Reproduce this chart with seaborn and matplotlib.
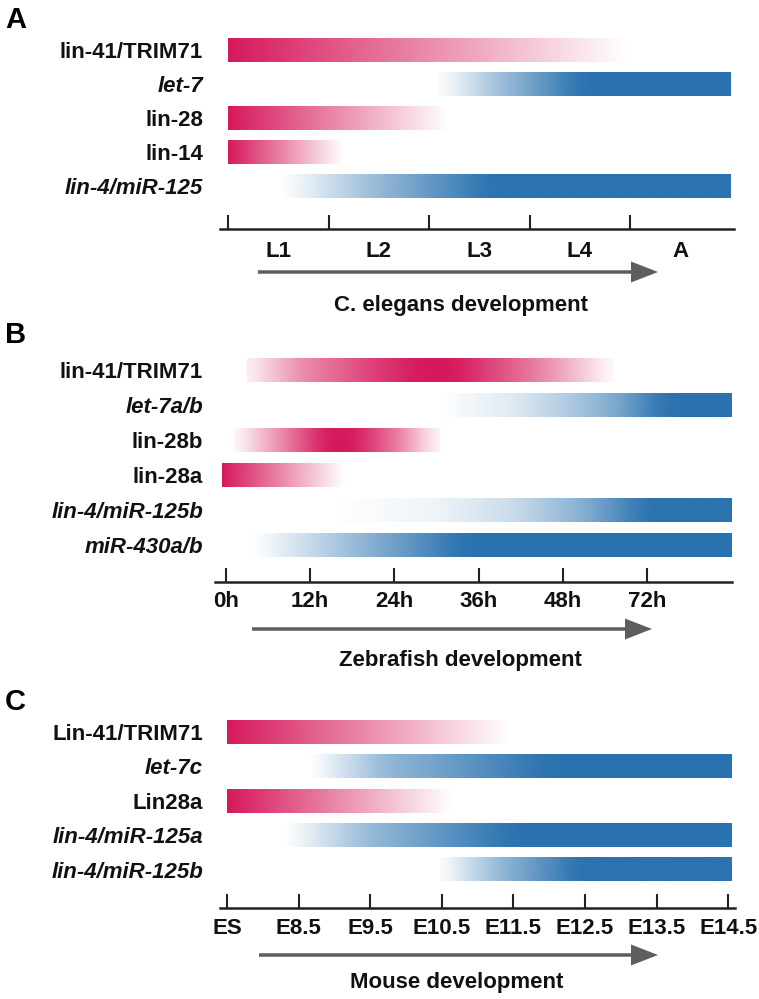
import numpy as np
import matplotlib
matplotlib.use("Agg")
import matplotlib.pyplot as plt
import seaborn as sns
from matplotlib.colors import to_rgb
from matplotlib.patches import FancyArrow

sns.set_theme(style="white")
plt.rcParams["font.family"] = ["Liberation Sans", "DejaVu Sans"]
plt.rcParams["font.weight"] = "bold"

# ---------------- data ----------------
# Panel A: C. elegans
stages_A = ["L1", "L2", "L3", "L4", "A"]
genes_A = ["lin-41/TRIM71", "let-7", "lin-28", "lin-14", "lin-4/miR-125"]
italic_A = [False, True, False, False, True]
kind_A = ["prot", "mirna", "prot", "prot", "mirna"]
pos_A = [[0, 3.97], [2.1, 2.7, 3.5, 5.0], [0, 2.18], [0, 1.14], [0.55, 1.5, 2.6, 5.0]]
lvl_A = [[1, 0], [0, 0.45, 1, 1], [1, 0], [1, 0], [0, 0.5, 1, 1]]

# Panel B: Zebrafish
stages_B = ["0h", "12h", "24h", "36h", "48h", "72h"]
genes_B = ["lin-41/TRIM71", "let-7a/b", "lin-28b", "lin-28a", "lin-4/miR-125b", "miR-430a/b"]
italic_B = [False, True, False, False, True, True]
kind_B = ["prot", "mirna", "prot", "prot", "mirna", "mirna"]
pos_B = [[0.25, 0.9, 1.8, 2.3, 2.7, 3.6, 4.2, 4.6],
         [2.54, 3.4, 4.0, 4.6, 5.2, 6.0],
         [0.1, 0.6, 1.2, 1.5, 2.0, 2.54],
         [-0.05, 1.39],
         [1.27, 2.5, 3.4, 4.2, 5.0, 6.0],
         [0.34, 1.8, 2.8, 6.0]]
lvl_B = [[0.05, 0.5, 0.85, 1, 1, 0.6, 0.25, 0],
         [0, 0.15, 0.35, 0.6, 1, 1],
         [0, 0.45, 1, 1, 0.6, 0],
         [1, 0],
         [0, 0.08, 0.25, 0.55, 1, 1],
         [0, 0.6, 1, 1]]

# Panel C: Mouse
stages_C = ["ES", "E8.5", "E9.5", "E10.5", "E11.5", "E12.5", "E13.5", "E14.5"]
genes_C = ["Lin-41/TRIM71", "let-7c", "Lin28a", "lin-4/miR-125a", "lin-4/miR-125b"]
italic_C = [False, True, False, True, True]
kind_C = ["prot", "mirna", "prot", "mirna", "mirna"]
pos_C = [[0, 3.92], [1.19, 2.2, 4.46, 7.05], [0, 3.14], [0.84, 2.0, 4.0, 7.05], [2.98, 3.8, 4.9, 7.05]]
lvl_C = [[1, 0], [0, 0.5, 1, 1], [1, 0], [0, 0.5, 1, 1], [0, 0.5, 1, 1]]

titles = ["C. elegans development", "Zebrafish development", "Mouse development"]
letters = ["A", "B", "C"]

palette = {"prot": "#D6175B", "mirna": "#2A72AF"}
AXIS_COLOR = "#222222"
ARROW_COLOR = "#5E5E5E"

# ---------------- layout (pixels) ----------------
W, H = 759, 999
fig = plt.figure(figsize=(W / 100, H / 100), dpi=100)

geoms = [
    dict(x0=220, x1=734, top=30, axis=229, row0=50.5, step=34.0, tick0=228, unit=100.5,
         bar_h=23.5, label_pad_px=17, tick_pad=8.0, mid=True,
         arrow=(258, 658, 272), title_xy=(461, 311), letter_xy=(5, 28)),
    dict(x0=215, x1=732, top=350, axis=582, row0=370, step=35.0, tick0=226, unit=84.2,
         bar_h=23.5, label_pad_px=12, tick_pad=6.5, mid=False,
         arrow=(252, 652, 629), title_xy=(460, 666), letter_xy=(5, 343)),
    dict(x0=220, x1=735, top=712, axis=908, row0=732, step=34.4, tick0=227, unit=71.6,
         bar_h=23.5, label_pad_px=17, tick_pad=7.0, mid=False,
         arrow=(259, 658, 955), title_xy=(457, 988), letter_xy=(5, 710)),
]

panels = [
    (genes_A, italic_A, kind_A, pos_A, lvl_A, stages_A),
    (genes_B, italic_B, kind_B, pos_B, lvl_B, stages_B),
    (genes_C, italic_C, kind_C, pos_C, lvl_C, stages_C),
]

# overlay in pixel coordinates for annotations
ov = fig.add_axes([0, 0, 1, 1])
ov.set_xlim(0, W)
ov.set_ylim(H, 0)
ov.axis("off")


def smooth_profile(p, l, n=800, width=0.35):
    xs = np.linspace(p[0], p[-1], n)
    a = np.interp(xs, p, l)
    dx = (p[-1] - p[0]) / (n - 1)
    k = max(1, int(width / dx))
    if k > 1 and len(p) > 2:
        kern = np.ones(k) / k
        padded = np.concatenate([np.full(k, a[0]), a, np.full(k, a[-1])])
        a = np.convolve(padded, kern, mode="same")[k:-k]
    return np.clip(a, 0, 1)


for pi, ((genes, italic, kind, pos, lvl, stages), g) in enumerate(zip(panels, geoms)):
    ax = fig.add_axes([g["x0"] / W, 1 - g["axis"] / H,
                       (g["x1"] - g["x0"]) / W, (g["axis"] - g["top"]) / H])
    s = g["step"]
    h = g["bar_h"] / s
    for i, (k, p, l) in enumerate(zip(kind, pos, lvl)):
        a = smooth_profile(p, l)
        img = np.zeros((1, a.size, 4))
        img[..., :3] = to_rgb(palette[k])
        img[..., 3] = a
        ax.imshow(img, extent=(p[0], p[-1], i + h / 2, i - h / 2),
                  aspect="auto", interpolation="bilinear", zorder=2)
    ax.set_xlim((g["x0"] - g["tick0"]) / g["unit"], (g["x1"] - g["tick0"]) / g["unit"])
    ax.set_ylim((g["axis"] - g["row0"]) / s, (g["top"] - g["row0"]) / s)

    # gene labels
    ax.set_yticks(range(len(genes)))
    ax.set_yticklabels(genes)
    for lab, it in zip(ax.get_yticklabels(), italic):
        lab.set_fontstyle("italic" if it else "normal")
        lab.set_fontsize(16)
        lab.set_fontweight("bold")
        lab.set_color("#111111")
    ax.tick_params(axis="y", length=0, pad=g["label_pad_px"] * 0.72)

    # x axis
    if g["mid"]:
        ax.set_xticks(np.arange(len(stages)))
        ax.set_xticklabels([""] * len(stages))
        ax.set_xticks(np.arange(len(stages)) + 0.5, minor=True)
        ax.set_xticklabels(stages, minor=True)
        ax.tick_params(axis="x", which="minor", length=0, pad=g["tick_pad"] + 0.5,
                       labelsize=16, labelcolor="#111111")
    else:
        ax.set_xticks(np.arange(len(stages)))
        ax.set_xticklabels(stages)
    ax.tick_params(axis="x", which="major", direction="in", length=10, width=1.5,
                   color=AXIS_COLOR, pad=g["tick_pad"], labelsize=16, labelcolor="#111111",
                   bottom=True)
    sns.despine(ax=ax, left=True)
    ax.spines["bottom"].set_linewidth(1.8)
    ax.spines["bottom"].set_color(AXIS_COLOR)
    ax.set_facecolor("none")
    ax.grid(False)

    # arrow, title, panel letter
    xa0, xa1, ya = g["arrow"]
    ov.add_patch(FancyArrow(xa0, ya, xa1 - xa0, 0, width=3.5, head_width=21,
                            head_length=27, length_includes_head=True,
                            color=ARROW_COLOR, lw=0))
    ov.text(g["title_xy"][0], g["title_xy"][1], titles[pi], ha="center", va="baseline",
            fontsize=16, fontweight="bold", color="#111111")
    ov.text(g["letter_xy"][0], g["letter_xy"][1], letters[pi], ha="left", va="baseline",
            fontsize=21, fontweight="bold", color="#000000")

fig.savefig("out.png", dpi=100, facecolor="white")
